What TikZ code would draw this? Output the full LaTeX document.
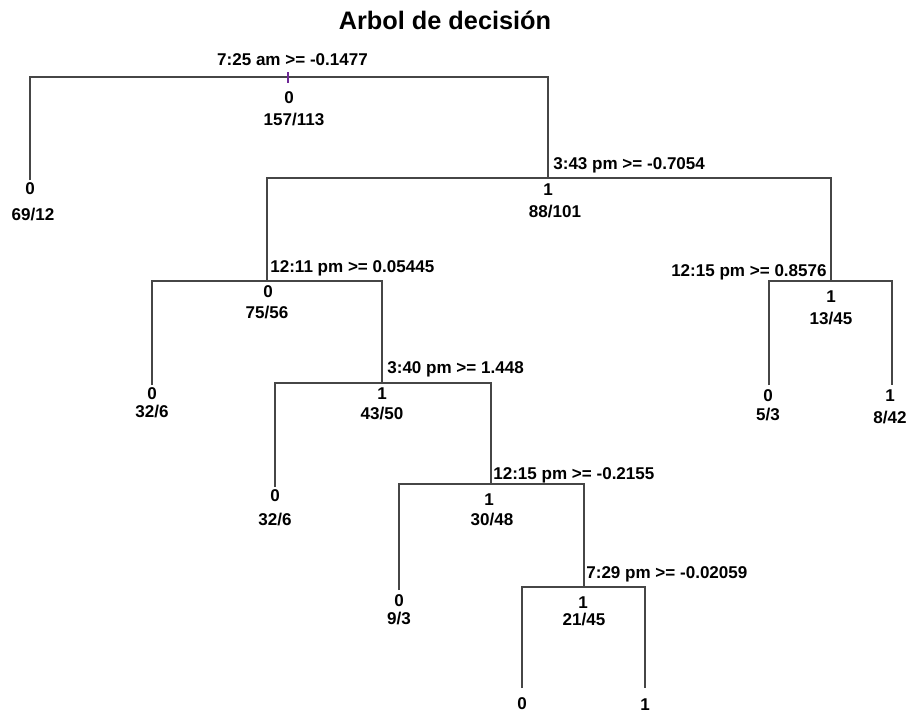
\documentclass[tikz,border=0pt]{standalone}
\usepackage{fontspec}
\setmainfont{Liberation Sans}
\usetikzlibrary{positioning}
\definecolor{treeGray}{RGB}{70,70,70}
\definecolor{tickPurple}{RGB}{110,40,150}
\tikzset{
  txt/.style={inner sep=0pt, anchor=base, font=\fontsize{9.7}{11}\selectfont\bfseries},
  cut/.style={txt, anchor=base west},
  edge/.style={draw=treeGray, line width=0.6pt}
}

\begin{document}
\begin{tikzpicture}[x=0.02cm, y=-0.02cm]
  \useasboundingbox (0,0) rectangle (912,711);
  \node[inner sep=0pt, anchor=base, font=\fontsize{14.4}{16}\selectfont\bfseries] (title) at (445,29) {Arbol de decisión};

  % split points and leaf ends
  \coordinate (root) at (289,77);
  \coordinate (n88) at (548,178);
  \coordinate (n75) at (267,281);
  \coordinate (n43) at (382,383);
  \coordinate (n30) at (491,484);
  \coordinate (n21) at (584,587);
  \coordinate (n13) at (831,281);
  \coordinate (l69) at (30,180);
  \coordinate (l32a) at (152,385);
  \coordinate (l32b) at (275,487);
  \coordinate (l9) at (399,590);
  \coordinate (l0) at (522,688);
  \coordinate (l1) at (645,688);
  \coordinate (l5) at (769,385);
  \coordinate (l8) at (892,385);

  % branches
  \draw[edge] (l69) |- (root) -| (n88);
  \draw[edge] (n75) |- (n88) -| (n13);
  \draw[edge] (l32a) |- (n75) -| (n43);
  \draw[edge] (l32b) |- (n43) -| (n30);
  \draw[edge] (l9) |- (n30) -| (n21);
  \draw[edge] (l0) |- (n21) -| (l1);
  \draw[edge] (l5) |- (n13) -| (l8);
  \draw[tickPurple, line width=0.6pt] (288,72) -- (288,83);

  % splits
  \node[txt] (rootsplit) at (292.5,65) {7:25 am >= -0.1477};
  \node[cut] (n88split) at (553,169) {3:43 pm >= -0.7054};
  \node[cut] (n75split) at (270,272) {12:11 pm >= 0.05445};
  \node[cut] (n43split) at (387,373) {3:40 pm >= 1.448};
  \node[cut] (n30split) at (493,479) {12:15 pm >= -0.2155};
  \node[cut] (n21split) at (586,578) {7:29 pm >= -0.02059};
  \node[txt, anchor=base east] (n13split) at (827,276) {12:15 pm >= 0.8576};

  % classes and counts
  \node[txt] (rootc) at (289,103) {0};
  \node[txt] (rootn) at (294,125) {157/113};
  \node[txt] (n88c) at (548,195) {1};
  \node[txt] (n88n) at (555,217) {88/101};
  \node[txt] (n75c) at (268,297) {0};
  \node[txt] (n75n) at (267,318) {75/56};
  \node[txt] (n43c) at (382,399) {1};
  \node[txt] (n43n) at (382,419) {43/50};
  \node[txt] (n30c) at (489,505) {1};
  \node[txt] (n30n) at (492,525) {30/48};
  \node[txt] (n21c) at (583,608) {1};
  \node[txt] (n21n) at (584,625) {21/45};
  \node[txt] (n13c) at (831,302) {1};
  \node[txt] (n13n) at (831,324) {13/45};
  \node[txt] (l69c) at (30,194) {0};
  \node[txt] (l69n) at (33,220) {69/12};
  \node[txt] (l32ac) at (152,399) {0};
  \node[txt] (l32an) at (152,417) {32/6};
  \node[txt] (l32bc) at (275,501) {0};
  \node[txt] (l32bn) at (275,525) {32/6};
  \node[txt] (l9c) at (399,606) {0};
  \node[txt] (l9n) at (399,624) {9/3};
  \node[txt] (l0c) at (522,709) {0};
  \node[txt] (l1c) at (645,710) {1};
  \node[txt] (l5c) at (768,401) {0};
  \node[txt] (l5n) at (768,420) {5/3};
  \node[txt] (l8c) at (890,401) {1};
  \node[txt] (l8n) at (890,423) {8/42};
\end{tikzpicture}
\end{document}
